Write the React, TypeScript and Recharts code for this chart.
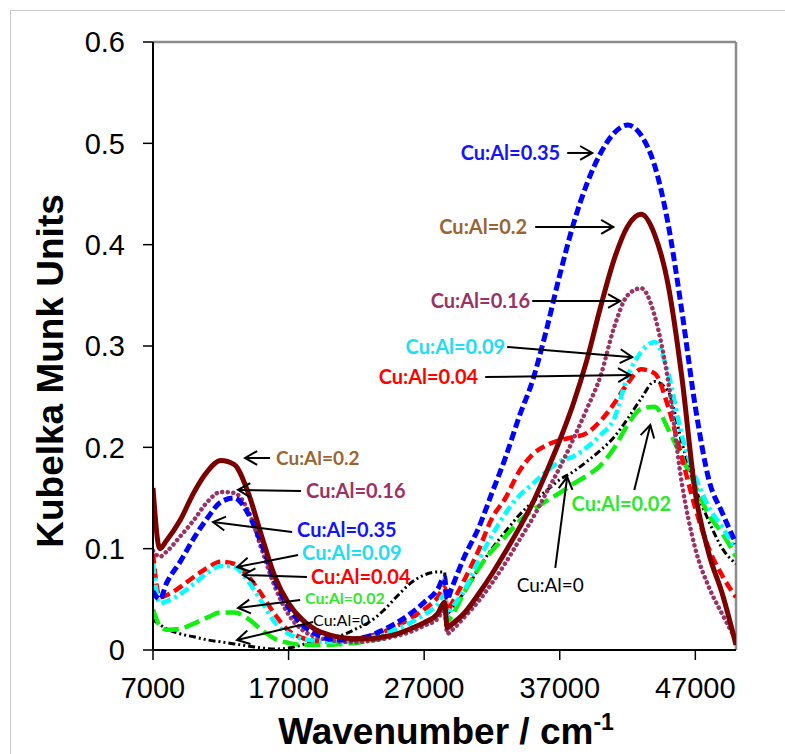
import { LineChart, Line, XAxis, YAxis, ReferenceLine } from "recharts";

// Wavenumber grid (cm-1) shared by every spectrum. 28500 -> 28700 is the detector change step.
const WAVENUMBER = [
  7000, 7500, 8000, 9000, 10000, 11000, 12000, 13000, 14000, 15000, 16000, 17000, 18000,
  19000, 20000, 21000, 22000, 23000, 24000, 25000, 26000, 27000, 28000, 28500, 28700, 29000,
  30000, 31000, 32000, 33000, 34000, 35000, 36000, 37000, 38000, 39000, 40000, 41000, 42000,
  43000, 44000, 45000, 46000, 47000, 48000, 49000, 50000,
];

// Kubelka-Munk values, one list per Cu:Al ratio.
const KM_035 = [
  0.058, 0.05, 0.066, 0.087, 0.11, 0.13, 0.146, 0.15, 0.135, 0.105, 0.068, 0.042, 0.025,
  0.016, 0.011, 0.01, 0.011, 0.014, 0.02, 0.027, 0.036, 0.047, 0.06, 0.072, 0.05, 0.06,
  0.093, 0.12, 0.155, 0.19, 0.23, 0.266, 0.315, 0.37, 0.42, 0.46, 0.49, 0.51, 0.518,
  0.508, 0.478, 0.42, 0.335, 0.24, 0.168, 0.135, 0.105,
];
const KM_020 = [
  0.16, 0.1, 0.108, 0.128, 0.155, 0.176, 0.187, 0.183, 0.156, 0.113, 0.072, 0.046, 0.03,
  0.02, 0.015, 0.012, 0.011, 0.011, 0.013, 0.016, 0.021, 0.027, 0.036, 0.047, 0.022, 0.025,
  0.037, 0.055, 0.075, 0.097, 0.12, 0.145, 0.175, 0.207, 0.243, 0.286, 0.338, 0.385, 0.418,
  0.43, 0.41, 0.36, 0.27, 0.155, 0.095, 0.055, 0.005,
];
const KM_016 = [
  0.098, 0.092, 0.097, 0.112, 0.128, 0.146, 0.156, 0.155, 0.138, 0.1, 0.062, 0.035, 0.02,
  0.013, 0.01, 0.008, 0.008, 0.009, 0.011, 0.014, 0.018, 0.024, 0.031, 0.04, 0.016, 0.019,
  0.033, 0.048, 0.066, 0.086, 0.108, 0.13, 0.155, 0.18, 0.208, 0.238, 0.27, 0.318, 0.35,
  0.357, 0.33, 0.265, 0.165, 0.1, 0.062, 0.035, 0.01,
];
const KM_009 = [
  0.085, 0.046, 0.048, 0.055, 0.065, 0.076, 0.083, 0.082, 0.068, 0.048, 0.027, 0.016, 0.011,
  0.009, 0.008, 0.008, 0.009, 0.012, 0.016, 0.021, 0.027, 0.035, 0.045, 0.055, 0.033, 0.04,
  0.06, 0.088, 0.113, 0.135, 0.152, 0.164, 0.176, 0.186, 0.191, 0.2, 0.212, 0.228, 0.27,
  0.294, 0.304, 0.273, 0.212, 0.171, 0.141, 0.121, 0.099,
];
const KM_004 = [
  0.095, 0.052, 0.054, 0.062, 0.072, 0.081, 0.087, 0.085, 0.073, 0.055, 0.035, 0.019, 0.012,
  0.009, 0.008, 0.009, 0.011, 0.014, 0.018, 0.024, 0.031, 0.04, 0.052, 0.062, 0.038, 0.045,
  0.07, 0.098, 0.13, 0.15, 0.176, 0.193, 0.202, 0.207, 0.21, 0.214, 0.226, 0.243, 0.263,
  0.277, 0.273, 0.24, 0.19, 0.14, 0.1, 0.073, 0.052,
];
const KM_002 = [
  0.04, 0.024, 0.02, 0.021, 0.026, 0.032, 0.037, 0.037, 0.031, 0.02, 0.011, 0.007, 0.005,
  0.005, 0.005, 0.006, 0.007, 0.009, 0.012, 0.016, 0.021, 0.027, 0.035, 0.042, 0.028, 0.033,
  0.058, 0.08, 0.098, 0.112, 0.127, 0.138, 0.147, 0.155, 0.164, 0.172, 0.182, 0.199, 0.222,
  0.238, 0.24, 0.218, 0.19, 0.162, 0.133, 0.115, 0.092,
];
const KM_000 = [
  0.03, 0.025, 0.021, 0.016, 0.013, 0.01, 0.008, 0.006, 0.004, 0.002, 0.001, 0.002, 0.005,
  0.009, 0.012, 0.015, 0.021, 0.028, 0.039, 0.053, 0.066, 0.074, 0.077, 0.077, 0.036, 0.04,
  0.058, 0.08, 0.1, 0.117, 0.133, 0.146, 0.157, 0.168, 0.176, 0.186, 0.197, 0.21, 0.228,
  0.248, 0.265, 0.255, 0.205, 0.16, 0.127, 0.1, 0.085,
];

const X_TICKS = [7000, 17000, 27000, 37000, 47000];
const Y_TICKS = [0, 0.1, 0.2, 0.3, 0.4, 0.5, 0.6];

// draw order: first is at the bottom
const SERIES = [
  { key: "cu000", values: KM_000, color: "#000000", width: 3, dash: "7 3 2 3 2 3", cap: "butt" },
  { key: "cu002", values: KM_002, color: "#11EE11", width: 4.5, dash: "16 6", cap: "butt" },
  { key: "cu004", values: KM_004, color: "#FF0000", width: 4.5, dash: "10 5", cap: "butt" },
  { key: "cu009", values: KM_009, color: "#00FFFF", width: 4.5, dash: "10 4 3 4", cap: "butt" },
  { key: "cu016", values: KM_016, color: "#993366", width: 4.5, dash: "0.1 5.5", cap: "round" },
  { key: "cu035", values: KM_035, color: "#0000FF", width: 5, dash: "9 4", cap: "butt" },
  { key: "cu020", values: KM_020, color: "#7A0000", width: 5, dash: undefined, cap: "butt" },
];

const data = WAVENUMBER.map((wn, i) => {
  const row: Record<string, number> = { wn };
  SERIES.forEach((s) => (row[s.key] = s.values[i]));
  return row;
});

interface Note {
  label: string;
  color: string;
  tail: [number, number];
  head: [number, number];
  anchor: "start" | "end" | "middle";
  dx: number;
  dy: number;
  size: number;
  bold: boolean;
}

// Callout arrows, in data coordinates (wavenumber, KM units).
const NOTES: Note[] = [
  { label: "Cu:Al=0.35", color: "#1414FA", tail: [37550, 0.4905], head: [39400, 0.4905], anchor: "end", dx: -7, dy: 0, size: 20, bold: true },
  { label: "Cu:Al=0.2", color: "#996633", tail: [35190, 0.4175], head: [40950, 0.4175], anchor: "end", dx: -8, dy: 0, size: 20, bold: true },
  { label: "Cu:Al=0.16", color: "#993366", tail: [34970, 0.3444], head: [41460, 0.3444], anchor: "end", dx: -2, dy: 0, size: 20, bold: true },
  { label: "Cu:Al=0.09", color: "#21DDF2", tail: [33120, 0.299], head: [42350, 0.289], anchor: "end", dx: -2, dy: 0, size: 20, bold: true },
  { label: "Cu:Al=0.04", color: "#FF0000", tail: [31500, 0.2694], head: [42200, 0.2714], anchor: "end", dx: -7, dy: 0, size: 20, bold: true },
  { label: "Cu:Al=0.02", color: "#2EE82E", tail: [42500, 0.158], head: [43680, 0.222], anchor: "middle", dx: -13, dy: 14, size: 20, bold: true },
  { label: "Cu:Al=0", color: "#000000", tail: [36670, 0.081], head: [37550, 0.1707], anchor: "middle", dx: -5, dy: 17, size: 19, bold: false },
  { label: "Cu:Al=0.2", color: "#996633", tail: [15630, 0.1895], head: [13790, 0.1895], anchor: "start", dx: 6, dy: 0, size: 19, bold: true },
  { label: "Cu:Al=0.16", color: "#993366", tail: [17920, 0.157], head: [13270, 0.158], anchor: "start", dx: 5, dy: 0, size: 20, bold: true },
  { label: "Cu:Al=0.35", color: "#1414FA", tail: [17260, 0.1165], head: [11430, 0.1263], anchor: "start", dx: 5, dy: -2, size: 20, bold: true },
  { label: "Cu:Al=0.09", color: "#21DDF2", tail: [17700, 0.0938], head: [13200, 0.0819], anchor: "start", dx: 4, dy: -2, size: 20, bold: true },
  { label: "Cu:Al=0.04", color: "#FF0000", tail: [18360, 0.072], head: [13640, 0.074], anchor: "start", dx: 4, dy: 0, size: 20, bold: true },
  { label: "Cu:Al=0.02", color: "#2EE82E", tail: [17850, 0.0493], head: [13270, 0.0414], anchor: "start", dx: 5, dy: -2, size: 16, bold: true },
  { label: "Cu:Al=0", color: "#000000", tail: [18810, 0.0276], head: [13200, 0.0099], anchor: "start", dx: 0, dy: -2, size: 16, bold: false },
];

function Callout(props: any) {
  const { x1, y1, x2, y2, note } = props as { x1: number; y1: number; x2: number; y2: number; note: Note };
  const ang = Math.atan2(y2 - y1, x2 - x1);
  const len = 14;
  const spread = 0.52;
  const a = `${x2 - len * Math.cos(ang - spread)},${y2 - len * Math.sin(ang - spread)}`;
  const b = `${x2 - len * Math.cos(ang + spread)},${y2 - len * Math.sin(ang + spread)}`;
  return (
    <g>
      <line x1={x1} y1={y1} x2={x2} y2={y2} stroke="#000" strokeWidth={2} />
      <polyline points={`${a} ${x2},${y2} ${b}`} fill="none" stroke="#000" strokeWidth={2} />
      <text
        x={x1 + note.dx}
        y={y1 + note.dy}
        dy="0.35em"
        textAnchor={note.anchor}
        fill={note.color}
        fontFamily="Lato, 'Open Sans', sans-serif"
        fontWeight={note.bold ? 700 : 400}
        fontSize={note.size}
      >
        {note.label}
      </text>
    </g>
  );
}

const XTitle = () => (
  <text x={446} y={744} textAnchor="middle" fontFamily="'Liberation Sans', Arial, sans-serif" fontWeight={700} fontSize={37} fill="#000">
    Wavenumber / cm
    <tspan dy={-14} fontSize={23}>-1</tspan>
  </text>
);

const YTitle = () => (
  <text
    x={0}
    y={0}
    transform="translate(63 371) rotate(-90)"
    textAnchor="middle"
    fontFamily="'Liberation Sans', Arial, sans-serif"
    fontWeight={700}
    fontSize={37}
    fill="#000"
  >
    Kubelka Munk Units
  </text>
);

const tickStyle = { fontSize: 29, fill: "#000", fontFamily: "'Liberation Sans', Arial, sans-serif" };

export default function App() {
  return (
    <div style={{ position: "absolute", left: 0, top: 0, width: 785, height: 754, overflow: "hidden", background: "#fff" }}>
      <div
        style={{
          position: "absolute",
          left: 10,
          top: 10,
          width: 900,
          height: 900,
          borderLeft: "1px solid #c8c8c8",
          borderTop: "1px solid #c8c8c8",
        }}
      />
      <LineChart
        width={785}
        height={754}
        data={data}
        margin={{ top: 42, right: 49, bottom: 44, left: 73 }}
        style={{ position: "absolute", left: 0, top: 0 }}
      >
        <XAxis
          dataKey="wn"
          type="number"
          domain={[7000, 50000]}
          ticks={X_TICKS}
          allowDataOverflow
          height={60}
          tick={tickStyle}
          tickSize={10}
          tickMargin={17}
          axisLine={{ stroke: "#000", strokeWidth: 2 }}
          tickLine={{ stroke: "#000", strokeWidth: 1.5 }}
          label={<XTitle />}
        />
        <YAxis
          type="number"
          domain={[0, 0.6]}
          ticks={Y_TICKS}
          allowDataOverflow
          width={80}
          tick={tickStyle}
          tickSize={10}
          tickMargin={18}
          tickFormatter={(v: number) => String(v)}
          axisLine={{ stroke: "#000", strokeWidth: 2 }}
          tickLine={{ stroke: "#000", strokeWidth: 1.5 }}
          label={<YTitle />}
        />
        <ReferenceLine y={0.6} stroke="#8c8c8c" strokeWidth={2.5} ifOverflow="visible" />
        <ReferenceLine x={50000} stroke="#8c8c8c" strokeWidth={2.5} ifOverflow="visible" />
        {SERIES.map((s) => (
          <Line
            key={s.key}
            dataKey={s.key}
            type="monotone"
            stroke={s.color}
            strokeWidth={s.width}
            strokeDasharray={s.dash}
            strokeLinecap={s.cap as "butt" | "round"}
            dot={false}
            activeDot={false}
            isAnimationActive={false}
          />
        ))}
        {NOTES.map((n, i) => (
          <ReferenceLine
            key={i}
            segment={[
              { x: n.tail[0], y: n.tail[1] },
              { x: n.head[0], y: n.head[1] },
            ]}
            ifOverflow="visible"
            shape={(p: any) => <Callout {...p} note={n} />}
          />
        ))}
      </LineChart>
    </div>
  );
}
